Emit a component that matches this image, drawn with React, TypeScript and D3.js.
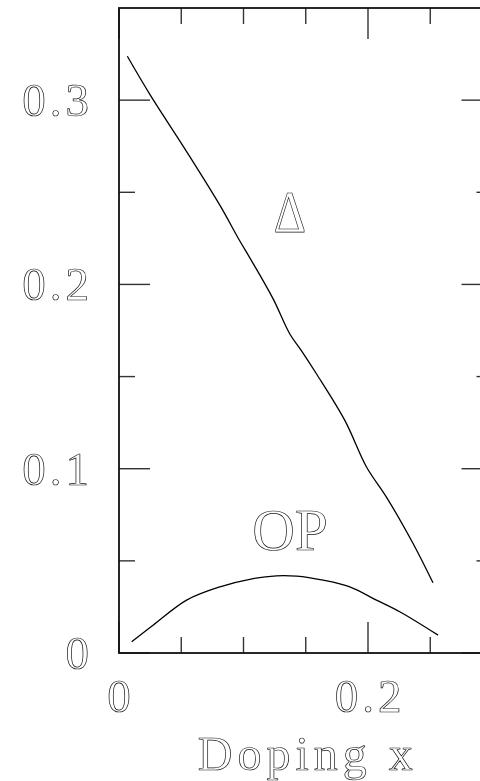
import React from "react";
import * as d3 from "d3";

// Gap Δ and order parameter OP versus doping x
const deltaX = [0.0067, 0.0249, 0.0543, 0.081, 0.0966, 0.1065, 0.1239, 0.1372, 0.1466, 0.1587, 0.1814, 0.1988, 0.2148, 0.2362, 0.2522];
const deltaY = [0.3238, 0.303, 0.2721, 0.243, 0.2241, 0.2128, 0.192, 0.1731, 0.164, 0.1514, 0.1262, 0.1009, 0.0846, 0.0594, 0.0381];
const opX = [0.0102, 0.0276, 0.0543, 0.0811, 0.1078, 0.1265, 0.1426, 0.164, 0.1854, 0.2068, 0.2255, 0.2563];
const opY = [0.0061, 0.0152, 0.0287, 0.0359, 0.0404, 0.0419, 0.0417, 0.0395, 0.0359, 0.0287, 0.0224, 0.0097];

const xMajor = [0, 0.2];
const xMinor = [0.05, 0.1, 0.15, 0.25];
const yMajor = [0, 0.1, 0.2, 0.3];
const yMinor = [0.05, 0.15, 0.25];
const xTickLabels = ["0", "0.2"];
const yTickLabels = ["0", "0.1", "0.2", "0.3"];

const W = 480;
const H = 781;
const left = 119;
const right = 492.5;
const top = 8;
const bottom = 653;

const FONT = "'Liberation Serif', 'DejaVu Serif', serif";

export default function App() {
  const x = d3.scaleLinear().domain([0, 0.3]).range([left, right]);
  const y = d3.scaleLinear().domain([0, 0.35]).range([bottom, top]);

  const line = d3
    .line<[number, number]>()
    .x((d) => x(d[0]))
    .y((d) => y(d[1]))
    .curve(d3.curveCatmullRom.alpha(0.5));

  const deltaPts = deltaX.map((v, i) => [v, deltaY[i]] as [number, number]);
  const opPts = opX.map((v, i) => [v, opY[i]] as [number, number]);

  const textStyle = {
    fontFamily: FONT,
    fill: "none",
    stroke: "#111",
    strokeWidth: 0.7,
  } as const;

  const majorLen = 31;
  const minorLen = 16;
  const tickColor = "#333";

  return (
    <svg
      width={W}
      height={H}
      style={{ position: "absolute", left: 0, top: 0, background: "#fff" }}
    >
      <rect x={0} y={0} width={W} height={H} fill="#fff" />

      {/* ticks on all four sides */}
      <g stroke={tickColor} strokeWidth={1.4}>
        {xMajor.map((v) => (
          <g key={"xM" + v}>
            <line x1={x(v)} x2={x(v)} y1={bottom} y2={bottom - majorLen} />
            <line x1={x(v)} x2={x(v)} y1={top} y2={top + majorLen} />
          </g>
        ))}
        {xMinor.map((v) => (
          <g key={"xm" + v}>
            <line x1={x(v)} x2={x(v)} y1={bottom} y2={bottom - minorLen} />
            <line x1={x(v)} x2={x(v)} y1={top} y2={top + minorLen} />
          </g>
        ))}
        {yMajor.map((v) => (
          <g key={"yM" + v}>
            <line x1={left} x2={left + majorLen} y1={y(v)} y2={y(v)} />
            <line x1={right} x2={right - majorLen} y1={y(v)} y2={y(v)} />
          </g>
        ))}
        {yMinor.map((v) => (
          <g key={"ym" + v}>
            <line x1={left} x2={left + minorLen} y1={y(v)} y2={y(v)} />
            <line x1={right} x2={right - minorLen} y1={y(v)} y2={y(v)} />
          </g>
        ))}
      </g>

      {/* frame */}
      <rect
        x={left}
        y={top}
        width={right - left}
        height={bottom - top}
        fill="none"
        stroke="#111"
        strokeWidth={1.8}
      />

      {/* curves */}
      <path d={line(deltaPts) || ""} fill="none" stroke="#000" strokeWidth={1.3} />
      <path d={line(opPts) || ""} fill="none" stroke="#000" strokeWidth={1.3} />

      {/* all text in an isolated group so it renders with grayscale antialiasing */}
      <g opacity={0.995} style={{ willChange: "transform" }}>
        {xMajor.map((v, i) => (
          <text
            key={"xl" + v}
            x={x(v) + 2}
            y={712}
            textAnchor="middle"
            fontSize={47}
            letterSpacing={4}
            style={textStyle}
          >
            {xTickLabels[i]}
          </text>
        ))}
        {yMajor.map((v, i) => (
          <text
            key={"yl" + v}
            x={93}
            y={y(v) + 16}
            textAnchor="end"
            fontSize={47}
            letterSpacing={4}
            style={textStyle}
          >
            {yTickLabels[i]}
          </text>
        ))}

        {/* axis title */}
        <text
          x={(left + right) / 2 + 2}
          y={770}
          textAnchor="middle"
          fontSize={48}
          letterSpacing={5}
          style={textStyle}
        >
          Doping x
        </text>

        {/* curve labels */}
        <text
          x={0}
          y={0}
          textAnchor="middle"
          fontSize={59}
          transform="translate(290,232) scale(0.85,1)"
          style={textStyle}
        >
          Δ
        </text>
        <text x={290} y={550} textAnchor="middle" fontSize={59} style={textStyle}>
          OP
        </text>
      </g>
    </svg>
  );
}
